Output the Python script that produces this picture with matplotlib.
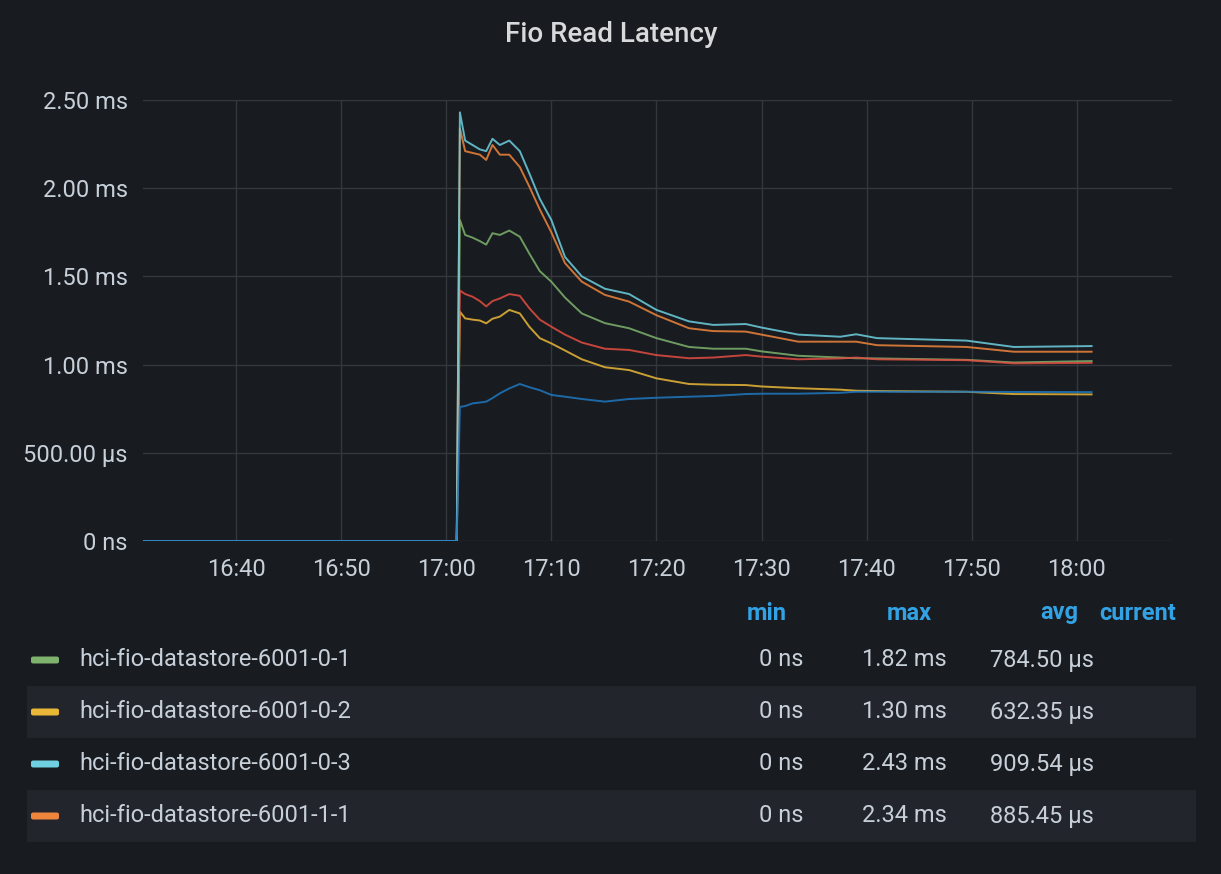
import matplotlib
matplotlib.use("Agg")
import matplotlib.pyplot as plt
import matplotlib.dates as mdates
from matplotlib.patches import Rectangle, FancyBboxPatch
import pandas as pd

# sample times, minutes after 16:00
minutes = [31.2, 61.0, 61.3, 61.8, 62.5, 63.2, 63.8, 64.4, 65.1, 66.0,
           67.0, 67.9, 68.9, 70.0, 71.3, 72.9, 75.1, 77.4, 80.0, 83.1,
           85.4, 88.5, 90.0, 93.5, 97.5, 99.0, 101.0, 109.5, 114.0, 121.4]

# latency in ms
lat_0_1 = [0, 0, 1.82, 1.735, 1.72, 1.70, 1.68, 1.745, 1.735, 1.76,
           1.725, 1.63, 1.53, 1.47, 1.38, 1.29, 1.235, 1.206, 1.15, 1.10,
           1.09, 1.09, 1.075, 1.05, 1.04, 1.036, 1.035, 1.027, 1.012, 1.02]
lat_0_2 = [0, 0, 1.30, 1.262, 1.255, 1.25, 1.234, 1.26, 1.272, 1.31,
           1.29, 1.215, 1.15, 1.12, 1.08, 1.03, 0.985, 0.969, 0.922, 0.89,
           0.886, 0.884, 0.876, 0.866, 0.858, 0.852, 0.85, 0.846, 0.833, 0.831]
lat_0_3 = [0, 0, 2.43, 2.27, 2.245, 2.22, 2.21, 2.28, 2.245, 2.27,
           2.21, 2.085, 1.94, 1.82, 1.61, 1.50, 1.43, 1.40, 1.31, 1.245,
           1.225, 1.23, 1.21, 1.17, 1.158, 1.172, 1.15, 1.136, 1.10, 1.105]
lat_1_1 = [0, 0, 2.34, 2.21, 2.20, 2.19, 2.16, 2.245, 2.19, 2.19,
           2.12, 2.01, 1.88, 1.75, 1.575, 1.47, 1.395, 1.357, 1.28, 1.206,
           1.19, 1.187, 1.17, 1.13, 1.13, 1.13, 1.11, 1.10, 1.073, 1.073]
lat_red = [0, 0, 1.42, 1.40, 1.385, 1.36, 1.33, 1.36, 1.375, 1.40,
           1.39, 1.32, 1.255, 1.215, 1.17, 1.125, 1.09, 1.083, 1.054, 1.036,
           1.04, 1.054, 1.045, 1.03, 1.035, 1.04, 1.03, 1.025, 1.007, 1.01]
lat_blue = [0, 0, 0.76, 0.765, 0.78, 0.785, 0.79, 0.81, 0.837, 0.865,
            0.89, 0.872, 0.855, 0.828, 0.818, 0.805, 0.79, 0.805, 0.812, 0.818,
            0.822, 0.833, 0.835, 0.835, 0.84, 0.846, 0.846, 0.846, 0.845, 0.844]

series_names = ["hci-fio-datastore-6001-0-1", "hci-fio-datastore-6001-0-2",
                "hci-fio-datastore-6001-0-3", "hci-fio-datastore-6001-1-1"]
mins = ["0 ns", "0 ns", "0 ns", "0 ns"]
maxs = ["1.82 ms", "1.30 ms", "2.43 ms", "2.34 ms"]
avgs = ["784.50 µs", "632.35 µs", "909.54 µs", "885.45 µs"]

ytick_vals = [0, 0.5, 1.0, 1.5, 2.0, 2.5]
ytick_labels = ["0 ns", "500.00 µs", "1.00 ms", "1.50 ms", "2.00 ms", "2.50 ms"]

BG = "#181b1f"
GRID = "#34373c"
TXT = "#c7d0d9"
HEAD = "#33a2e5"
FS = 17
colors = {"green": "#7eb26d", "yellow": "#eab839", "cyan": "#6ed0e0",
          "orange": "#ef843c", "red": "#e24d42", "blue": "#1f78c1"}

plt.rcParams['font.family'] = ['Roboto', 'DejaVu Sans']

W, H = 1221, 874
fig = plt.figure(figsize=(W / 100, H / 100), dpi=100, facecolor=BG)


def fx(x):
    return x / W


def fy(y):
    return 1 - y / H


ax = fig.add_axes([fx(143), fy(541), fx(1172) - fx(143), fy(100) - fy(541)])
ax.set_facecolor(BG)

base = pd.Timestamp("2021-06-01 16:00")
times = [base + pd.Timedelta(minutes=m) for m in minutes]

lines = [(lat_0_1, "green"), (lat_0_2, "yellow"), (lat_red, "red"),
         (lat_1_1, "orange"), (lat_0_3, "cyan"), (lat_blue, "blue")]
for vals, c in lines:
    ax.plot(times, vals, color=colors[c], lw=1.4, alpha=0.85)

ax.set_xlim(base + pd.Timedelta(minutes=31.15), base + pd.Timedelta(minutes=129.05))
ax.set_ylim(0, 2.5)
ax.set_yticks(ytick_vals)
ax.set_yticklabels(ytick_labels)
ax.xaxis.set_major_locator(mdates.MinuteLocator(byminute=range(0, 60, 10)))
ax.xaxis.set_major_formatter(mdates.DateFormatter("%H:%M"))
ax.tick_params(length=0, colors=TXT, labelsize=FS)
ax.tick_params(axis='y', pad=11)
ax.tick_params(axis='x', pad=12)
ax.grid(True, color=GRID, lw=1)
ax.set_axisbelow(True)
for s in ax.spines.values():
    s.set_visible(False)

fig.text(fx(611), fy(35), "Fio Read Latency", color="#d8d9da", fontsize=20,
         fontweight='medium', ha='center', va='center')

# legend table
headers = [("min", 787), ("max", 932), ("avg", 1078), ("current", 1176)]
for label, x in headers:
    fig.text(fx(x), fy(613), label, color=HEAD, fontsize=FS,
             fontweight='bold', ha='right', va='center')

row_y = [660, 712, 764, 816]
legend_colors = ["green", "yellow", "cyan", "orange"]
for i, y in enumerate(row_y):
    if i % 2 == 1:
        fig.patches.append(Rectangle((fx(27), fy(y + 26)), fx(1196) - fx(27),
                                     fy(y - 26) - fy(y + 26),
                                     transform=fig.transFigure,
                                     facecolor="#22252b", edgecolor='none'))
    fig.patches.append(FancyBboxPatch((fx(31), fy(y + 3.5)), fx(28), fy(0) - fy(7),
                                      boxstyle="round,pad=0,rounding_size=0.002",
                                      transform=fig.transFigure,
                                      facecolor=colors[legend_colors[i]],
                                      edgecolor='none'))
    fig.text(fx(79), fy(y), series_names[i], color=TXT, fontsize=FS,
             ha='left', va='center')
    fig.text(fx(803), fy(y), mins[i], color=TXT, fontsize=FS,
             ha='right', va='center')
    fig.text(fx(947), fy(y), maxs[i], color=TXT, fontsize=FS,
             ha='right', va='center')
    fig.text(fx(1094), fy(y), avgs[i], color=TXT, fontsize=FS,
             ha='right', va='center')

fig.savefig("out.png", dpi=100, facecolor=BG)
